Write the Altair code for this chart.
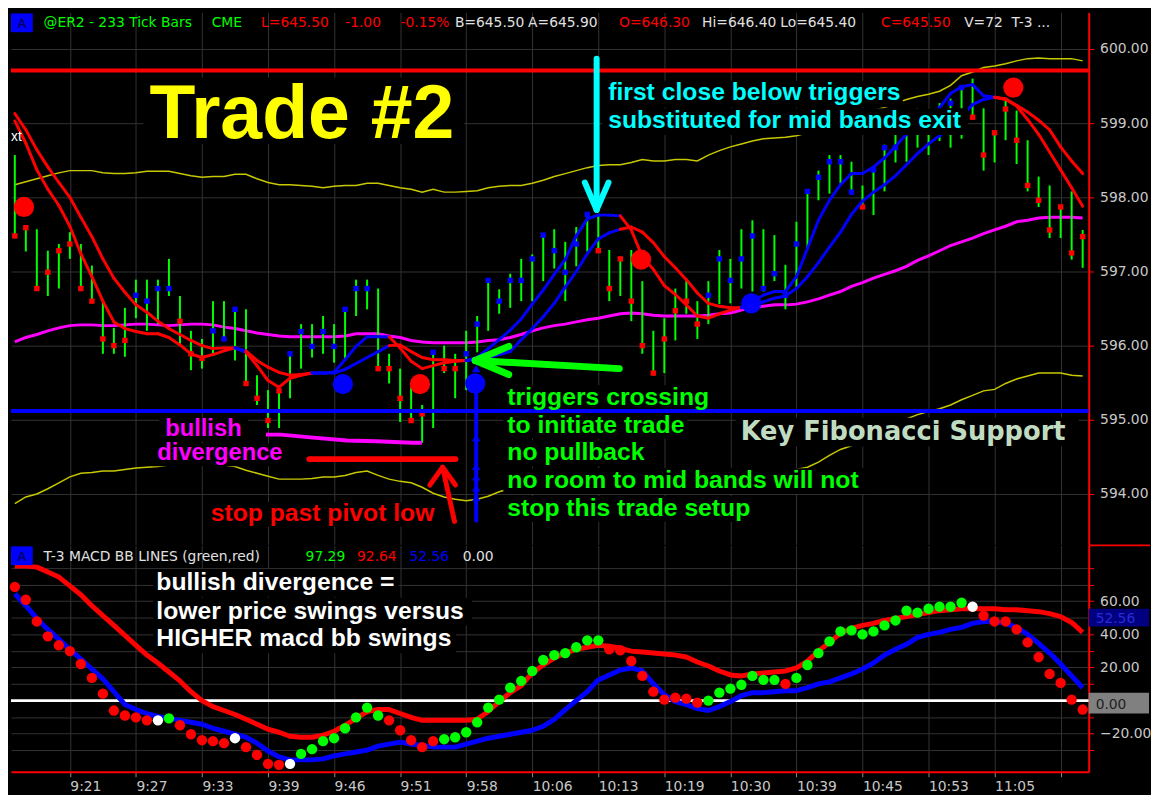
import altair as alt
import pandas as pd

# ---------------- values ----------------
TIME_LABELS = ["9:21", "9:27", "9:33", "9:39", "9:46", "9:51", "9:58", "10:06",
               "10:13", "10:19", "10:30", "10:39", "10:45", "10:53", "11:05", ""]
TICK_BARS = [5, 11, 17, 23, 29, 35, 41, 47, 53, 59, 65, 71, 77, 83, 89, 95]

HIGH = [598.57, 597.60, 597.57, 597.28, 597.37, 597.53, 597.37, 597.08, 596.60, 596.24,
        596.51, 596.89, 596.89, 596.89, 597.17, 596.67, 596.20, 596.09, 596.60, 596.60,
        596.51, 596.49, 595.60, 595.40, 595.40, 595.91, 596.29, 596.29, 596.40, 596.29,
        596.49, 596.89, 596.89, 596.77, 595.89, 595.69, 595.44, 595.20, 595.91, 596.00,
        595.89, 596.20, 596.40, 596.91, 596.76, 596.97, 597.17, 597.23, 597.51, 597.57,
        597.40, 597.60, 597.77, 597.77, 597.29, 597.17, 597.29, 596.87, 596.20, 596.37,
        596.77, 596.87, 596.60, 596.87, 597.29, 597.17, 597.57, 597.69, 597.57, 597.49,
        597.09, 597.67, 598.08, 598.36, 598.57, 598.57, 598.48, 598.16, 598.39, 598.71,
        598.84, 599.13, 599.20, 599.20, 599.27, 599.33, 599.48, 599.60, 599.20, 598.88,
        599.33, 599.17, 598.77, 598.28, 598.16, 597.88, 598.08, 597.56]
LOW = [597.45, 597.27, 596.77, 596.67, 596.77, 597.17, 596.76, 596.60, 595.89, 595.89,
       595.85, 596.37, 596.20, 596.29, 596.67, 596.00, 595.67, 595.69, 595.89, 596.07,
       595.80, 595.49, 595.20, 594.89, 594.89, 595.29, 595.69, 595.84, 595.89, 595.77,
       595.80, 596.40, 596.49, 595.69, 595.49, 594.97, 594.97, 594.69, 594.89, 595.63,
       595.29, 595.40, 595.91, 596.20, 596.43, 596.51, 596.60, 596.60, 596.87, 597.04,
       596.60, 597.07, 597.27, 597.27, 596.60, 596.67, 596.33, 595.89, 595.60, 595.63,
       596.07, 596.43, 596.09, 596.29, 596.56, 596.57, 596.77, 596.73, 596.73, 596.87,
       596.49, 596.76, 597.29, 597.96, 598.05, 598.19, 598.04, 597.87, 597.76, 598.08,
       598.47, 598.48, 598.67, 598.57, 598.76, 598.67, 598.79, 599.07, 598.36, 598.47,
       598.77, 598.45, 598.08, 597.87, 597.45, 597.45, 597.16, 597.05]
CLOSE = [597.48, 597.59, 596.77, 596.99, 597.28, 597.37, 596.77, 596.60, 596.09, 596.00,
         596.07, 596.68, 596.60, 596.77, 596.77, 596.33, 595.89, 595.83, 596.20, 596.09,
         596.49, 595.49, 595.29, 594.99, 595.39, 595.89, 596.19, 595.99, 596.19, 595.99,
         596.49, 596.77, 596.77, 595.69, 595.69, 595.29, 594.99, 595.08, 595.91, 595.69,
         595.69, 595.89, 596.29, 596.88, 596.60, 596.88, 596.88, 597.17, 597.49, 597.28,
         596.99, 597.37, 597.77, 597.28, 596.77, 597.17, 596.60, 596.00, 595.63, 596.09,
         596.47, 596.60, 596.29, 596.68, 597.17, 596.88, 597.17, 597.48, 596.77, 596.97,
         596.68, 597.37, 598.08, 598.27, 598.48, 598.48, 598.07, 597.87, 598.37, 598.67,
         598.67, 598.93, 599.03, 599.11, 599.16, 599.27, 599.48, 599.08, 598.57, 598.87,
         599.19, 598.77, 598.16, 597.96, 597.56, 597.87, 597.25, 597.47]
CLOSE_COLOR = list("RRRRRRRRRRR" "BBBB" "RRR" "BBB" "RRRR" "BBBBBBBB" "RRRRR" "B" "RR"
                   "BBBBBBBBBBBB" "RRRRRRRRRR" "BBBBBBBBBBBBBB" "R" "BBBBBBBBB" "RRRRRRRRRRR")

FAST = [599.03, 598.73, 598.37, 598.11, 597.89, 597.61, 597.24, 596.93, 596.60, 596.32,
        596.23, 596.19, 596.16, 596.16, 596.11, 596.01, 595.89, 595.84, 595.88, 595.93,
        595.97, 595.91, 595.73, 595.53, 595.44, 595.56, 595.60, 595.63, 595.63, 595.64,
        595.81, 595.99, 596.12, 596.12, 596.12, 595.97, 595.79, 595.69, 595.73, 595.77,
        595.79, 595.80, 595.84, 595.96, 596.08, 596.21, 596.36, 596.56, 596.75, 596.96,
        597.16, 597.48, 597.71, 597.76, 597.76, 597.75, 597.56, 597.20, 597.03, 596.81,
        596.69, 596.55, 596.40, 596.37, 596.43, 596.48, 596.52, 596.60, 596.68, 596.73,
        596.73, 596.93, 597.31, 597.69, 597.96, 598.17, 598.32, 598.32, 598.41, 598.53,
        598.69, 598.85, 598.96, 599.08, 599.21, 599.40, 599.49, 599.52, 599.37, 599.35,
        599.32, 599.23, 599.05, 598.85, 598.61, 598.37, 598.13, 597.88]
SLOW = [599.13, 598.91, 598.64, 598.41, 598.20, 598.00, 597.73, 597.47, 597.17, 596.91,
        596.72, 596.55, 596.45, 596.33, 596.23, 596.15, 596.07, 596.00, 595.96, 595.97,
        595.97, 595.93, 595.80, 595.71, 595.64, 595.60, 595.61, 595.63, 595.63, 595.63,
        595.68, 595.76, 595.84, 595.92, 596.00, 596.01, 595.92, 595.84, 595.81, 595.81,
        595.80, 595.80, 595.81, 595.84, 595.88, 595.92, 596.08, 596.23, 596.39, 596.57,
        596.79, 597.00, 597.24, 597.44, 597.52, 597.57, 597.60, 597.53, 597.39, 597.20,
        597.05, 596.89, 596.71, 596.57, 596.53, 596.51, 596.51, 596.53, 596.59, 596.64,
        596.67, 596.77, 596.93, 597.12, 597.33, 597.53, 597.77, 597.95, 598.07, 598.17,
        598.29, 598.44, 598.59, 598.72, 598.83, 598.96, 599.09, 599.25, 599.32, 599.35,
        599.33, 599.24, 599.15, 599.04, 598.91, 598.68, 598.49, 598.32]
TRIGGER_STATE = list("R" * 21 + "B" + "R" * 6 + "B" * 7 + "R" * 7 + "B" * 14 +
                     "R" * 11 + "B" * 23 + "R" * 8)

MID = [596.05, 596.11, 596.15, 596.20, 596.24, 596.27, 596.28, 596.28, 596.27, 596.27,
       596.28, 596.29, 596.29, 596.28, 596.27, 596.28, 596.29, 596.29, 596.28, 596.25,
       596.23, 596.20, 596.17, 596.15, 596.13, 596.12, 596.12, 596.12, 596.12, 596.12,
       596.13, 596.16, 596.16, 596.16, 596.13, 596.11, 596.07, 596.05, 596.04, 596.04,
       596.04, 596.04, 596.05, 596.07, 596.08, 596.11, 596.15, 596.20, 596.24, 596.27,
       596.29, 596.32, 596.35, 596.37, 596.40, 596.43, 596.44, 596.43, 596.41, 596.40,
       596.40, 596.40, 596.40, 596.41, 596.43, 596.44, 596.48, 596.51, 596.53, 596.55,
       596.55, 596.56, 596.59, 596.63, 596.68, 596.73, 596.80, 596.85, 596.91, 596.96,
       597.01, 597.07, 597.15, 597.21, 597.28, 597.35, 597.40, 597.45, 597.51, 597.56,
       597.61, 597.67, 597.69, 597.72, 597.73, 597.73, 597.73, 597.72]
UPPER = [598.17, 598.21, 598.25, 598.29, 598.33, 598.36, 598.36, 598.36, 598.33, 598.32,
         598.32, 598.33, 598.35, 598.35, 598.35, 598.32, 598.29, 598.27, 598.28, 598.28,
         598.31, 598.31, 598.25, 598.20, 598.17, 598.17, 598.16, 598.15, 598.13, 598.15,
         598.16, 598.16, 598.19, 598.19, 598.16, 598.13, 598.11, 598.07, 598.11, 598.07,
         598.07, 598.08, 598.09, 598.13, 598.15, 598.16, 598.16, 598.19, 598.23, 598.28,
         598.32, 598.36, 598.40, 598.43, 598.44, 598.44, 598.47, 598.51, 598.49, 598.49,
         598.51, 598.51, 598.49, 598.57, 598.63, 598.68, 598.72, 598.76, 598.79, 598.80,
         598.81, 598.83, 598.87, 598.91, 598.96, 599.01, 599.07, 599.12, 599.17, 599.21,
         599.27, 599.32, 599.36, 599.39, 599.43, 599.51, 599.64, 599.69, 599.75, 599.77,
         599.80, 599.84, 599.87, 599.88, 599.87, 599.87, 599.87, 599.84]
LOWER = [593.87, 593.96, 594.00, 594.07, 594.15, 594.23, 594.28, 594.29, 594.31, 594.31,
         594.33, 594.35, 594.36, 594.37, 594.39, 594.40, 594.40, 594.40, 594.39, 594.39,
         594.37, 594.32, 594.28, 594.24, 594.20, 594.20, 594.20, 594.21, 594.23, 594.23,
         594.25, 594.29, 594.31, 594.25, 594.20, 594.17, 594.15, 594.09, 594.01, 593.96,
         593.93, 593.91, 593.93, 593.97, 594.03, 594.07, 594.08, 594.09, 594.11, 594.11,
         594.11, 594.09, 594.09, 594.08, 594.08, 594.08, 594.08, 594.09, 594.09, 594.11,
         594.12, 594.13, 594.15, 594.16, 594.17, 594.19, 594.20, 594.21, 594.24, 594.27,
         594.29, 594.33, 594.36, 594.43, 594.52, 594.60, 594.65, 594.73, 594.81, 594.89,
         594.96, 595.01, 595.07, 595.11, 595.15, 595.20, 595.27, 595.33, 595.39, 595.41,
         595.49, 595.55, 595.59, 595.63, 595.63, 595.63, 595.60, 595.59]

SIG_I = [0.83, 29.8, 36.8, 41.82, 56.89, 66.9, 90.7]
SIG_P = [597.87, 595.48, 595.48, 595.49, 597.16, 596.57, 599.48]
SIG_C = ["R", "B", "R", "B", "R", "B", "R"]

RESIST_LEVEL = 599.71
FIB_LEVEL = 595.12

# annotation geometry, in (bar index, price)
CYAN_ARROW = [(52.85, 599.87, 52.85, 597.87), (51.78, 598.20, 52.85, 597.83), (53.93, 598.20, 52.85, 597.83)]
RED_ARROW = [(39.94, 593.63, 38.86, 594.36), (37.70, 594.12, 38.86, 594.36), (40.03, 594.12, 38.86, 594.36)]
GREEN_ARROW = [(54.91, 595.69, 41.82, 595.80), (44.87, 595.99, 41.82, 595.80), (44.87, 595.61, 41.82, 595.80)]
BLUE_ARROW = [(41.91, 595.57, 41.91, 593.64)]
BLUE_HEADS = [595.69, 594.76, 594.37, 594.23, 594.08, 593.95]
DIV_I = [22.81, 24.15, 27.11, 30.16, 32.85, 36.08, 36.98]
DIV_P = [594.80, 594.80, 594.76, 594.72, 594.71, 594.69, 594.69]
STOP_LINE = [(26.75, 594.47, 40.03, 594.47)]

MACD = [68.7, 60.9, 47.8, 38.8, 33.4, 29.9, 22.1, 13.7, 4.2, -6.0,
        -9.0, -10.1, -11.9, -11.9, -10.7, -14.9, -20.3, -23.9, -24.5, -25.7,
        -22.7, -28.1, -32.8, -38.2, -38.8, -38.2, -32.2, -29.3, -24.5, -22.7,
        -16.7, -10.1, -4.2, -9.0, -11.9, -17.9, -23.9, -28.1, -24.5, -23.3,
        -22.1, -19.1, -13.1, -4.2, 0.6, 7.8, 11.9, 17.9, 24.5, 27.5,
        28.7, 32.2, 36.4, 36.4, 31.0, 30.4, 23.9, 14.9, 5.4, 0.6,
        1.8, 1.2, -1.2, 0.0, 4.8, 7.2, 9.6, 14.9, 12.5, 12.5,
        10.1, 13.7, 21.5, 28.7, 35.8, 41.8, 42.4, 40.0, 41.8, 45.4,
        48.4, 54.3, 53.1, 55.5, 56.7, 56.7, 59.1, 56.7, 51.3, 47.8,
        47.8, 43.0, 35.2, 26.3, 16.1, 10.7, 0.6, -5.4]
MACD_COLOR = list("R" * 13 + "W" + "G" + "R" * 5 + "W" + "R" * 4 + "W" + "G" * 8 + "R" * 5 +
                  "G" * 15 + "R" * 9 + "G" * 7 + "R" + "G" * 16 + "W" + "R" * 10)
MACD_RED = [81.2, 81.2, 80.6, 77.6, 74.6, 69.3, 63.9, 57.3, 51.3, 45.4,
            39.4, 33.4, 27.5, 22.7, 17.3, 11.9, 5.4, 0.0, -3.6, -6.0,
            -8.4, -11.3, -14.3, -17.3, -19.1, -21.5, -22.1, -22.1, -20.9, -18.5,
            -14.9, -10.7, -6.6, -5.4, -5.4, -7.8, -10.1, -11.9, -11.9, -11.9,
            -11.9, -11.9, -11.3, -6.6, -0.6, 4.8, 9.0, 16.7, 21.5, 25.7,
            28.7, 31.0, 32.2, 33.4, 32.8, 31.6, 29.9, 29.3, 28.7, 28.1,
            27.5, 26.3, 23.3, 20.9, 17.9, 15.5, 14.9, 16.1, 16.7, 17.3,
            17.9, 19.7, 23.9, 29.9, 35.2, 40.6, 43.6, 45.4, 46.6, 48.4,
            49.6, 50.7, 51.9, 53.1, 54.3, 54.9, 55.5, 55.5, 55.5, 55.5,
            54.9, 54.9, 54.3, 53.7, 52.5, 50.7, 47.2, 41.2]
MACD_BLUE = [64.5, 57.3, 49.6, 43.0, 37.0, 31.0, 25.1, 19.1, 13.1, 5.4,
             -2.4, -5.4, -7.8, -9.6, -10.7, -11.9, -13.1, -14.3, -16.7, -18.5,
             -20.3, -22.1, -25.7, -30.4, -34.0, -35.8, -35.8, -35.8, -35.2, -33.4,
             -32.2, -31.0, -29.9, -27.5, -26.3, -25.1, -26.3, -26.9, -28.1, -28.1,
             -28.1, -26.3, -24.5, -22.7, -21.5, -20.3, -19.1, -17.9, -15.5, -11.3,
             -5.4, 0.0, 5.4, 12.5, 15.5, 18.5, 19.7, 17.9, 10.1, 3.6,
             -0.6, -2.4, -4.8, -6.0, -3.6, -0.6, 3.0, 4.8, 4.8, 5.4,
             6.0, 6.0, 7.8, 10.1, 11.3, 13.7, 16.1, 19.1, 22.7, 27.5,
             31.0, 34.0, 38.2, 40.0, 41.2, 43.0, 44.2, 46.6, 47.8, 47.8,
             46.6, 44.2, 40.0, 34.6, 28.7, 22.1, 14.9, 7.8]

# ---------------- layout / style ----------------
W, H_TOP, H_BOT = 1090, 538, 229
X_DOMAIN = [-0.35, 97.55]
P_DOMAIN = [593.32, 600.493]
M_DOMAIN = [-42.99, 93.73]
COL = {"R": "#ff0000", "B": "#0000ff", "G": "#00ff00", "W": "#ffffff"}
GRID = "#333333"
AXC = "#c8c8c8"
SANS = "Liberation Sans"
WIDE = "DejaVu Sans"

n = len(CLOSE)
bars = pd.DataFrame({
    "i": list(range(n)), "high": HIGH, "low": LOW, "close": CLOSE,
    "col": [COL[c] for c in CLOSE_COLOR], "mid": MID, "upper": UPPER, "lower": LOWER,
    "macd": MACD, "mcol": [COL[c] for c in MACD_COLOR], "mred": MACD_RED, "mblue": MACD_BLUE,
})
segs = []
for k in range(1, n):
    for s in (SLOW, FAST):
        segs.append({"i0": k - 1, "i1": k, "p0": s[k - 1], "p1": s[k], "c": COL[TRIGGER_STATE[k]]})
segs = pd.DataFrame(segs)
sig = pd.DataFrame({"i": SIG_I, "p": SIG_P, "c": [COL[c] for c in SIG_C]})
ONE = pd.DataFrame({"k": [0]})

xs = alt.Scale(domain=X_DOMAIN, nice=False, zero=False)
ps = alt.Scale(domain=P_DOMAIN, nice=False, zero=False)
ms = alt.Scale(domain=M_DOMAIN, nice=False, zero=False)

x_top_axis = alt.Axis(values=TICK_BARS, labels=False, ticks=False, domain=False, grid=True,
                      gridColor=GRID, title=None)
p_axis = alt.Axis(orient="right", values=[594, 595, 596, 597, 598, 599, 600], format=".2f",
                  grid=True, gridColor=GRID, domainColor="#ff0000", domainWidth=2,
                  tickColor="#ff0000", tickSize=5, labelColor=AXC, labelFont=WIDE,
                  labelFontSize=14, labelPadding=6, labelFlush=False, labelOverlap=False, title=None)
tick_expr = " : ".join(f"datum.value == {b} ? '{t}'" for b, t in zip(TICK_BARS, TIME_LABELS)) + " : ''"
x_bot_axis = alt.Axis(values=TICK_BARS, labelExpr=tick_expr, labelAlign="left", labelPadding=3,
                      labelFont=WIDE, labelFontSize=14, labelColor=AXC, tickColor="#909090",
                      tickSize=5, domainColor="#ff0000", domainWidth=2, grid=True, gridColor=GRID,
                      labelFlush=False, labelOverlap=False, title=None)
m_axis = alt.Axis(orient="right", values=list(range(-30, 90, 10)),
                  labelExpr="indexof([-20, 20, 40, 60], datum.value) >= 0 ? format(datum.value, '.2f') : ''",
                  grid=True, gridColor=GRID, domainColor="#ff0000", domainWidth=2,
                  tickColor="#ff0000", tickSize=5, labelColor=AXC, labelFont=WIDE,
                  labelFontSize=14, labelPadding=6, labelFlush=False, labelOverlap=False, title=None)


def XT(f):
    return alt.X(f"{f}:Q", scale=xs, axis=x_top_axis, title=None)


def XB(f):
    return alt.X(f"{f}:Q", scale=xs, axis=x_bot_axis, title=None)


def P(f):
    return alt.Y(f"{f}:Q", scale=ps, axis=p_axis, title=None)


def M(f):
    return alt.Y(f"{f}:Q", scale=ms, axis=m_axis, title=None)


def txt(s, x, y, color, size, font=SANS, weight="bold", align="left"):
    return alt.Chart(ONE).mark_text(text=s, color=color, fontSize=size, font=font,
                                    fontWeight=weight, align=align, baseline="alphabetic").encode(
        x=alt.value(x), y=alt.value(y))


def box(x0, y0, x1, y1, color="#000000"):
    return alt.Chart(ONE).mark_rect(color=color).encode(
        x=alt.value(x0), x2=alt.value(x1), y=alt.value(y0), y2=alt.value(y1))


def segments(rows, color, width):
    df = pd.DataFrame(rows, columns=["a", "pa", "b", "pb"])
    return alt.Chart(df).mark_rule(color=color, strokeWidth=width, strokeCap="round").encode(
        x=XT("a"), x2="b", y=P("pa"), y2="pb")


# ---------------- top panel ----------------
top_layers = [
    alt.Chart(bars).mark_line(color="#c8c800", strokeWidth=1.5).encode(x=XT("i"), y=P("upper")),
    alt.Chart(bars).mark_line(color="#c8c800", strokeWidth=1.5).encode(x=XT("i"), y=P("lower")),
    alt.Chart(bars).mark_line(color="#ff00ff", strokeWidth=3).encode(x=XT("i"), y=P("mid")),
    alt.Chart(bars).mark_rule(color="#00ff00", strokeWidth=2).encode(x=XT("i"), y=P("low"), y2="high"),
    alt.Chart(bars).mark_square(size=30, opacity=1).encode(x=XT("i"), y=P("close"),
                                                          color=alt.Color("col:N", scale=None)),
    alt.Chart(segs).mark_rule(strokeWidth=3, strokeCap="round").encode(
        x=XT("i0"), x2="i1", y=P("p0"), y2="p1", color=alt.Color("c:N", scale=None)),
    alt.Chart(sig).mark_circle(size=420, opacity=1).encode(x=XT("i"), y=P("p"),
                                                           color=alt.Color("c:N", scale=None)),
    # text background boxes
    box(134, 66, 458, 133),
    box(598, 69, 902, 96), box(598, 97, 968, 124),
    box(498, 377, 713, 403), box(498, 405, 684, 431), box(498, 433, 646, 459),
    box(498, 461, 866, 487), box(498, 489, 754, 515),
    box(733, 410, 1080, 439),
    box(150, 410, 240, 434), box(143, 436, 286, 459),
    box(198, 495, 440, 520),
    # level lines
    alt.Chart(pd.DataFrame({"p": [RESIST_LEVEL]})).mark_rule(color="#ff0000", strokeWidth=4).encode(y=P("p")),
    alt.Chart(pd.DataFrame({"p": [FIB_LEVEL]})).mark_rule(color="#0000ff", strokeWidth=4).encode(y=P("p")),
    # annotations
    segments(CYAN_ARROW, "#00ffff", 6),
    segments(RED_ARROW, "#ff0000", 5),
    segments(GREEN_ARROW, "#00ff00", 7),
    segments(BLUE_ARROW, "#0000ff", 4),
    segments(STOP_LINE, "#ff0000", 6),
    alt.Chart(pd.DataFrame({"i": [41.91] * len(BLUE_HEADS), "p": BLUE_HEADS})).mark_point(
        shape="triangle-up", filled=True, size=70, color="#0000ff", opacity=1).encode(x=XT("i"), y=P("p")),
    alt.Chart(pd.DataFrame({"i": DIV_I, "p": DIV_P})).mark_line(color="#ff00ff", strokeWidth=4).encode(
        x=XT("i"), y=P("p")),
    # texts
    txt("Trade #2", 140, 127, "#ffff00", 76),
    txt("first close below triggers", 604, 89, "#00ffff", 25),
    txt("substituted for mid bands exit", 604, 117, "#00ffff", 25),
    txt("triggers crossing", 502, 397, "#00ff00", 25),
    txt("to initiate trade", 502, 425, "#00ff00", 25),
    txt("no pullback", 502, 453, "#00ff00", 25),
    txt("no room to mid bands will not", 502, 481, "#00ff00", 25),
    txt("stop this trade setup", 502, 509, "#00ff00", 25),
    txt("Key Fibonacci Support", 738, 432, "#c0dcc0", 26, font=WIDE),
    txt("bullish", 156, 428, "#ff00ff", 24),
    txt("divergence", 148, 453, "#ff00ff", 24),
    txt("stop past pivot low", 202, 514, "#ff0000", 25),
    txt("xt", 0, 130, "#ffffff", 14, weight="normal"),
    # header
    box(0, 1, 22, 20, "#0000ff"),
    txt("A", 11, 16, "#000060", 13, align="center"),
]
for s, x, c in [("@ER2 - 233 Tick Bars", 33, "#00ff00"), ("CME", 203, "#00ff00"),
                ("L=645.50", 253, "#ff0000"), ("-1.00", 338, "#ff0000"), ("-0.15%", 394, "#ff0000"),
                ("B=645.50", 449, "#e0e0e0"), ("A=645.90", 523, "#e0e0e0"), ("O=646.30", 615, "#ff0000"),
                ("Hi=646.40", 699, "#e0e0e0"), ("Lo=645.40", 778, "#e0e0e0"), ("C=645.50", 880, "#ff0000"),
                ("V=72", 964, "#e0e0e0"), ("T-3 ...", 1012, "#e0e0e0")]:
    top_layers.append(txt(s, x, 15, c, 14, font=WIDE, weight="normal"))

top = alt.layer(*top_layers).properties(width=W, height=H_TOP)

# ---------------- bottom panel ----------------
bot_layers = [
    alt.Chart(pd.DataFrame({"v": [0]})).mark_rule(color="#ffffff", strokeWidth=3).encode(y=M("v")),
    alt.Chart(bars).mark_line(color="#0000ff", strokeWidth=5, strokeJoin="round").encode(
        x=XB("i"), y=M("mblue")),
    alt.Chart(bars).mark_line(color="#ff0000", strokeWidth=5, strokeJoin="round").encode(
        x=XB("i"), y=M("mred")),
    alt.Chart(bars).mark_circle(size=110, opacity=1).encode(
        x=XB("i"), y=M("macd"), color=alt.Color("mcol:N", scale=None)),
    box(144, 24, 392, 52), box(144, 53, 466, 81), box(144, 81, 450, 109),
    txt("bullish divergence =", 147, 45, "#ffffff", 25),
    txt("lower price swings versus", 147, 74, "#ffffff", 25),
    txt("HIGHER macd bb swings", 147, 102, "#ffffff", 25),
    box(0, 1, 22, 20, "#0000ff"),
    txt("A", 11, 16, "#000060", 13, align="center"),
    # right-hand value boxes
    box(W, 64, W + 61, 82, "#000080"),
    txt("52.56", W + 7, 78, "#2a2ad8", 14, font=WIDE, weight="normal"),
    box(W, 149, W + 61, 170, "#808080"),
    txt("0.00", W + 7, 165, "#202020", 14, font=WIDE, weight="normal"),
    alt.Chart(ONE).mark_rule(color="#ff0000", strokeWidth=2).encode(
        x=alt.value(W), x2=alt.value(W + 62), y=alt.value(0)),
]
for s, x, c in [("T-3 MACD BB LINES  (green,red)", 33, "#e0e0e0"), ("97.29", 298, "#00ff00"),
                ("92.64", 350, "#ff0000"), ("52.56", 403, "#0000ff"), ("0.00", 457, "#e0e0e0")]:
    bot_layers.append(txt(s, x, 16, c, 14, font=WIDE, weight="normal"))

bot = alt.layer(*bot_layers).properties(width=W, height=H_BOT)

chart = alt.vconcat(top, bot, spacing=0).properties(background="#000000", padding=0).configure_view(stroke=None)
chart.save("out.html", embed_options={"renderer": "svg", "actions": False})
